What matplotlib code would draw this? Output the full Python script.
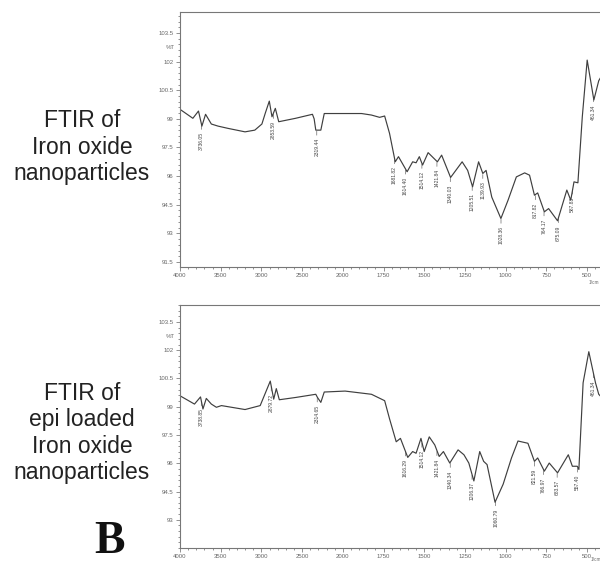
import numpy as np
import matplotlib
matplotlib.use("Agg")
from matplotlib import pyplot as plt
from matplotlib.ticker import FormatStrFormatter
from matplotlib.transforms import blended_transform_factory

# Spectrum 1: iron oxide nanoparticles (wavenumber 1/cm, %T)
wn_np = [4000, 3842, 3773, 3731, 3686, 3615, 3532, 3408, 3201, 3081, 2994,
         2953, 2903, 2870, 2829, 2787, 2580, 2373, 2352, 2332, 2270, 2228,
         2042, 1885, 1824, 1774, 1743, 1713, 1678, 1658, 1605, 1571, 1550,
         1530, 1510, 1476, 1419, 1393, 1338, 1267, 1233, 1203, 1166, 1140,
         1120, 1085, 1029, 985, 934, 883, 853, 823, 803, 762, 736, 681, 624,
         600, 580, 556, 529, 499, 458, 428, 400]
t_np = [99.50, 99.03, 99.41, 98.62, 99.24, 98.73, 98.62, 98.50, 98.32, 98.41,
        98.73, 99.29, 99.93, 99.11, 99.55, 98.85, 99.03, 99.24, 99.00, 98.41,
        98.41, 99.28, 99.28, 99.28, 99.20, 99.08, 99.15, 98.24, 96.75, 97.02,
        96.23, 96.75, 96.70, 97.02, 96.58, 97.23, 96.75, 97.10, 95.93, 96.75,
        96.30, 95.44, 96.75, 96.14, 96.30, 94.90, 93.78, 94.74, 95.96, 96.17,
        96.05, 95.00, 95.12, 94.13, 94.30, 93.66, 95.27, 94.74, 95.70, 95.65,
        99.11, 102.08, 99.99, 101.00, 101.40]
peaks_np = ["3736.05", "2853.59", "2319.44", "1681.82", "1614.40", "1514.12",
            "1421.84", "1340.03", "1205.51", "1139.93", "1028.36", "817.82",
            "764.17", "675.09", "587.83", "461.34"]

# Spectrum 2: epi loaded iron oxide nanoparticles
wn_epi = [4000, 3822, 3748, 3718, 3677, 3615, 3553, 3491, 3201, 3015, 2891,
          2849, 2817, 2780, 2581, 2332, 2311, 2270, 2228, 1986, 1824, 1743,
          1713, 1672, 1646, 1601, 1571, 1550, 1520, 1500, 1469, 1435, 1408,
          1382, 1343, 1292, 1256, 1226, 1195, 1159, 1135, 1114, 1065, 1015,
          964, 924, 863, 823, 803, 762, 732, 681, 615, 590, 560, 550, 524,
          489, 448, 428, 400]
t_epi = [99.58, 99.14, 99.52, 98.88, 99.44, 99.14, 98.97, 99.06, 98.85, 99.06,
         100.36, 99.40, 99.96, 99.37, 99.49, 99.66, 99.49, 99.23, 99.78, 99.83,
         99.66, 99.32, 98.36, 97.14, 97.32, 96.31, 96.62, 96.53, 97.32, 96.62,
         97.40, 96.97, 96.36, 96.62, 96.01, 96.71, 96.45, 96.01, 95.06, 96.62,
         96.10, 95.93, 93.93, 94.89, 96.28, 97.18, 97.06, 96.10, 96.28, 95.58,
         96.01, 95.49, 96.45, 95.84, 95.84, 95.67, 100.27, 101.92, 100.27,
         99.66, 99.40]
peaks_epi = ["3738.85", "2879.72", "2314.65", "1616.29", "1514.12", "1421.84",
             "1340.34", "1206.37", "1060.79", "821.59", "766.97", "683.57",
             "557.40", "461.34"]

yticks = [103.5, 102, 100.5, 99, 97.5, 96, 94.5, 93, 91.5]
xticks = [4000, 3500, 3000, 2500, 2000, 1750, 1500, 1250, 1000, 750, 500]

LINE = "#3f3f3f"
GREY = "#666666"


def _fwd(x):
    x = np.asarray(x, dtype=float)
    return np.where(x > 2000, 2000 + (x - 2000) / 2.0, x)


def _inv(y):
    y = np.asarray(y, dtype=float)
    return np.where(y > 2000, 2000 + 2.0 * (y - 2000), y)


def draw_spectrum(ax, wn, t, peaks, ylim, unit_x, unit_y):
    ax.set_xscale("function", functions=(_fwd, _inv))
    ax.plot(wn, t, color=LINE, lw=0.85)
    ax.set_xlim(4000, 400)
    ax.set_ylim(*ylim)
    ax.set_xticks(xticks)
    ax.set_xticklabels([str(v) for v in xticks])
    minor = list(np.arange(4000, 2000, -100)) + list(np.arange(2000, 400, -50))
    ax.set_xticks(minor, minor=True)
    ax.set_yticks([v for v in yticks if ylim[0] <= v <= ylim[1]])
    ax.yaxis.set_major_formatter(FormatStrFormatter("%g"))
    ax.set_yticks(np.arange(91.5, 104.6, 0.3), minor=True)
    ax.tick_params(which="both", direction="out", colors=GREY, labelsize=4.3,
                   width=0.5, pad=1.5)
    ax.tick_params(which="major", length=3)
    ax.tick_params(which="minor", length=1.6)
    for s in ax.spines.values():
        s.set_color("#777777")
        s.set_linewidth(0.8)
    # peak labels hanging under the dips
    xs = np.array(wn)[::-1]
    ys = np.array(t)[::-1]
    for lbl in peaks:
        px = float(lbl)
        py = np.interp(px, xs, ys)
        ax.annotate(lbl, xy=(px, py - 0.05), xytext=(0, -5),
                    textcoords="offset points", rotation=90, ha="center",
                    va="top", fontsize=3.6, color="#444444",
                    arrowprops=dict(arrowstyle="-", lw=0.4, color="#444444",
                                    shrinkA=0, shrinkB=0))
    tr = blended_transform_factory(ax.transAxes, ax.transData)
    ax.text(-0.012, 102.72, "%T", transform=tr, ha="right", va="center",
            fontsize=4.3, color=GREY)
    trx = blended_transform_factory(ax.transData, ax.transAxes)
    ax.text(unit_x, unit_y, "1/cm", transform=trx, ha="left", va="center",
            fontsize=3.4, color=GREY)


plt.rcParams["font.family"] = ["Liberation Sans", "DejaVu Sans"]
fig = plt.figure(figsize=(6.0, 5.63), dpi=100)

ax1 = fig.add_axes([0.30, 0.5258, 0.7055, 0.4529])
draw_spectrum(ax1, wn_np, t_np, peaks_np, (91.24, 104.6), 492, -0.06)

ax2 = fig.add_axes([0.30, 0.0266, 0.7055, 0.4317])
draw_spectrum(ax2, wn_epi, t_epi, peaks_epi, (91.52, 104.18), 476, -0.049)

fig.text(82 / 600, 1 - 147 / 563, "FTIR of\nIron oxide\nnanoparticles",
         ha="center", va="center", fontsize=16.5, linespacing=1.2,
         color="#222222")
fig.text(82 / 600, 1 - 433 / 563, "FTIR of\nepi loaded\nIron oxide\nnanoparticles",
         ha="center", va="center", fontsize=16.5, linespacing=1.2,
         color="#222222")
fig.text(110 / 600, 1 - 542 / 563, "B", ha="center", va="center",
         fontsize=33, fontweight="bold", family="Liberation Serif",
         color="#111111")

fig.savefig("out.png", dpi=100)
